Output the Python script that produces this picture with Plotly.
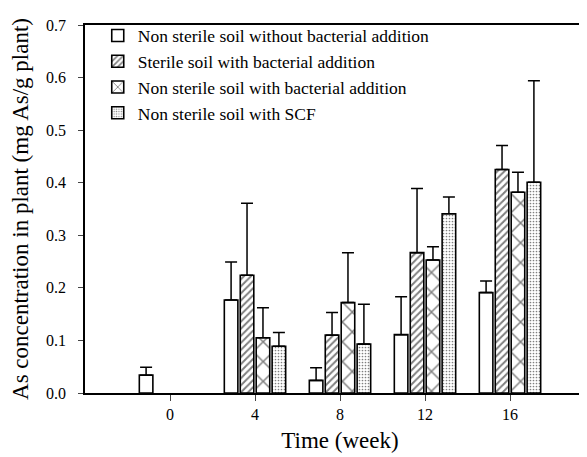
import plotly.graph_objects as go

weeks = [0, 4, 8, 12, 16]
names = [
    "Non sterile soil without bacterial addition",
    "Sterile soil with bacterial addition",
    "Non sterile soil with bacterial addition",
    "Non sterile soil with SCF",
]
# mean values (None = not measured)
s1 = [0.034, 0.177, 0.024, 0.111, 0.191]
s2 = [None, 0.224, 0.110, 0.267, 0.425]
s3 = [None, 0.105, 0.172, 0.253, 0.382]
s4 = [None, 0.089, 0.093, 0.341, 0.401]
# upper error (absolute top of error bar)
e1 = [0.049, 0.249, 0.048, 0.183, 0.213]
e2 = [None, 0.361, 0.153, 0.389, 0.471]
e3 = [None, 0.162, 0.267, 0.278, 0.420]
e4 = [None, 0.115, 0.169, 0.373, 0.594]

series = [s1, s2, s3, s4]
tops = [e1, e2, e3, e4]
patterns = [
    dict(shape=""),
    dict(shape="/", size=5, solidity=0.4, fgcolor="black", bgcolor="white"),
    dict(shape="x", size=14, solidity=0.2, fgcolor="black", bgcolor="white"),
    dict(shape=".", size=3, solidity=0.25, fgcolor="black", bgcolor="white"),
]

fig = go.Figure()
for name, vals, top, pat in zip(names, series, tops, patterns):
    err = [None if v is None else round(t - v, 4) for v, t in zip(vals, top)]
    fig.add_trace(go.Bar(
        x=weeks, y=vals, name=name,
        marker=dict(color="white", line=dict(color="black", width=1.6), pattern=pat),
        error_y=dict(type="data", array=err, arrayminus=[0]*len(err), symmetric=False,
                     color="black", thickness=1.5, width=6),
    ))

font = "Liberation Serif"
fig.update_layout(
    width=587, height=457,
    margin=dict(l=77, r=0, t=17, b=72),
    barmode="group", bargap=0.25, bargroupgap=0.15,
    plot_bgcolor="white", paper_bgcolor="white",
    font=dict(family=font, size=16, color="black"),
    showlegend=True,
    legend=dict(x=0.025, y=1.02, xanchor="left", yanchor="top",
                bgcolor="rgba(0,0,0,0)", font=dict(size=17.5, family=font),
                tracegroupgap=0, itemwidth=30),
    xaxis=dict(range=[-4, 20], tickvals=weeks, ticks="outside", ticklen=6,
               showline=True, linecolor="black", linewidth=1.5, mirror=True,
               showgrid=False, zeroline=False,
               tickfont=dict(size=16, family=font),
               title=dict(text="Time (week)", font=dict(size=23, family=font), standoff=10)),
    yaxis=dict(range=[0, 0.7], dtick=0.1, tickformat=".1f", ticks="outside", ticklen=5,
               ticklabelstandoff=9,
               showline=True, linecolor="black", linewidth=1.5,
               showgrid=False, zeroline=False,
               tickfont=dict(size=16, family=font),
               title=dict(text="As concentration in plant (mg As/g plant)",
                          font=dict(size=23, family=font), standoff=12)),
)
fig.write_html("out.html")
